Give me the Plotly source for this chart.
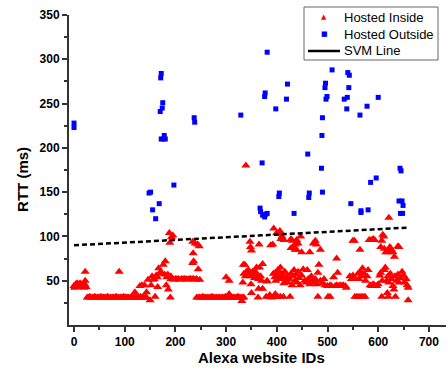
import plotly.graph_objects as go

# ---------------- data ----------------
# Hosted Inside (red triangles), in segments along the website-ID axis
in_x_a = [0, 1, 3, 4, 6, 7, 9, 10, 12, 13, 15, 16, 18, 19, 21, 22, 22, 24]
in_y_a = [44, 42, 46, 43, 47, 45, 46, 44, 47, 45, 43, 46, 44, 42, 46, 50, 60, 43]

in_x_b = [26, 28, 31, 33, 36, 38, 41, 43, 46, 48, 51, 53, 56, 58, 61, 63, 66, 68, 71, 73,
          76, 78, 81, 83, 86, 88, 91, 93, 96, 98, 101, 103, 106, 108, 111, 113, 116, 118,
          121, 123, 126, 128, 131, 133, 136, 138, 141, 143, 89, 120, 130, 134, 139, 143]
in_y_b = [31, 31, 32, 31, 31, 31, 32, 31, 31, 31, 31, 32, 31, 31, 31, 31, 32, 31, 31, 31,
          31, 31, 31, 32, 31, 31, 31, 31, 31, 32, 31, 31, 31, 31, 31, 31, 32, 31,
          31, 31, 31, 31, 32, 31, 31, 31, 31, 31, 60, 37, 44, 45, 45, 37]

in_x_c = [146, 150, 152, 154, 156, 158, 160, 162, 164, 165, 167, 169, 171, 176, 179, 180,
          182, 183, 185, 186, 188, 189, 190, 191, 192, 195]
in_y_c = [51, 28, 45, 55, 51, 52, 32, 56, 54, 43, 64, 58, 60, 68, 57, 72,
          45, 54, 57, 40, 104, 93, 31, 55, 99, 101]

in_x_d = [191, 194, 197, 200, 203, 206, 209, 212, 215, 218, 221, 224, 227, 230, 233, 236, 239]
in_y_d = [52, 52, 51, 52, 52, 52, 51, 52, 52, 52, 52, 51, 52, 52, 52, 52, 51]

in_x_e = [234, 239, 244, 247, 235, 234, 236, 245, 248, 242]
in_y_e = [94, 92, 91, 89, 81, 70, 72, 63, 51, 52]

in_x_f = [242, 245, 248, 251, 254, 257, 260, 263, 266, 269, 272, 275, 278, 281, 284, 287,
          290, 293, 296, 299, 302, 305, 308, 311, 314, 317, 320, 323, 326, 329, 332, 335,
          306, 331, 300, 306]
in_y_f = [31, 31, 31, 31, 32, 31, 31, 31, 31, 31, 32, 31, 31, 31, 31, 31,
          31, 31, 31, 32, 31, 31, 31, 31, 31, 31, 31, 32, 31, 31, 31, 31,
          35, 27, 54, 50]

in_x_g = [334, 337, 339, 335, 338, 340, 342, 344, 346, 348, 350, 352, 354, 356, 358, 360,
          362, 364, 366, 368, 370, 372, 349, 333, 347, 348, 350, 365, 350, 363, 364, 372]
in_y_g = [68, 68, 180, 58, 55, 60, 57, 62, 59, 55, 57, 60, 56, 53, 60, 65,
          56, 52, 65, 55, 50, 41, 46, 48, 94, 88, 84, 91, 36, 31, 41, 69]

in_x_h = [394, 400, 404, 406, 408, 410, 414, 388, 392, 428, 430, 432, 436, 439, 439, 442,
          447, 449, 428, 436,
          380, 381, 393, 396, 397, 398, 400, 402, 404, 406, 407, 408, 410, 412, 414, 416,
          418, 420, 422, 425, 428, 430, 432, 434, 436, 438, 440, 442, 444, 446, 449, 452,
          455, 458, 460, 462, 465, 468, 470, 473, 476, 479, 481, 483, 486, 490, 493, 495,
          379, 384, 386, 390, 394, 397, 402, 407, 413, 426]
in_y_h = [109, 104, 103, 106, 97, 100, 96, 90, 91, 97, 95, 88, 91, 85, 96, 92,
          100, 82, 87, 85,
          49, 50, 58, 54, 59, 50, 56, 62, 57, 52, 65, 55, 58, 53, 47, 60,
          50, 55, 48, 52, 58, 45, 55, 62, 50, 57, 48, 60, 53, 45, 56, 63,
          50, 48, 62, 52, 46, 55, 50, 48, 52, 46, 59, 68, 50, 47, 52, 45,
          32, 32, 34, 31, 32, 35, 32, 32, 32, 32]

in_x_i = [465, 472, 476, 478, 486, 518, 550, 553, 564, 582, 586, 590, 593, 605, 607, 609,
          611, 612, 615, 620, 621, 623, 626, 629, 632, 639, 641,
          500, 505, 508, 512, 515, 518, 520, 522, 525, 528, 531, 535, 537, 544, 547, 550,
          552, 555, 560, 562, 565, 567, 569, 572, 575, 578, 580, 584, 587, 590, 593, 597,
          600, 603, 605, 608, 612, 614, 617, 619, 621, 624, 626, 629, 631, 633, 636, 639,
          641, 644, 647, 650, 652, 655, 657, 659,
          481, 501, 505, 554, 558, 562, 566, 570, 574, 607, 618, 620, 634, 659]
in_y_i = [82, 92, 95, 91, 85, 75, 95, 95, 85, 96, 96, 97, 96, 88, 95, 102,
          100, 86, 82, 82, 121, 88, 85, 82, 77, 89, 88,
          44, 45, 44, 54, 44, 45, 59, 44, 45, 44, 45, 44, 42, 55, 52, 56,
          53, 52, 58, 52, 60, 55, 64, 58, 50, 55, 62, 45, 44, 46, 45, 44,
          46, 56, 59, 50, 62, 65, 50, 55, 48, 58, 52, 44, 40, 55, 50, 57,
          48, 53, 60, 56, 48, 52, 45, 42,
          32, 32, 32, 32, 32, 32, 32, 32, 32, 32, 36, 32, 32, 28]

inside_x = in_x_a + in_x_b + in_x_c + in_x_d + in_x_e + in_x_f + in_x_g + in_x_h + in_x_i
inside_y = in_y_a + in_y_b + in_y_c + in_y_d + in_y_e + in_y_f + in_y_g + in_y_h + in_y_i

# Hosted Outside (blue squares)
outside_x = [0, 0, 148, 151, 155, 161, 168, 171, 172, 170, 174, 175, 172, 176, 178, 180,
             197, 237, 238, 329, 367, 368, 372, 376, 378, 381, 371, 376, 377, 381, 398,
             404, 405, 419, 421, 434, 461, 463, 464, 488, 489, 490, 490, 495, 496, 497,
             499, 509, 533, 539, 538, 540, 543, 542, 546, 564, 566, 566, 578, 580, 585,
             596, 600, 641, 643, 645, 647, 649, 644, 648]
outside_y = [228, 223, 149, 150, 130, 120, 137, 279, 284, 241, 245, 251, 210, 210, 214, 210,
             158, 234, 229, 237, 132, 128, 124, 122, 125, 126, 183, 258, 262, 308, 244,
             145, 149, 255, 272, 126, 193, 144, 149, 177, 214, 234, 150, 268, 273, 255,
             258, 288, 255, 257, 244, 285, 282, 268, 137, 237, 127, 129, 247, 130, 161,
             166, 257, 140, 177, 174, 140, 135, 126, 126]

# SVM separating line
svm_x = [0, 660]
svm_y = [90, 110]

legend_labels = ["Hosted Inside", "Hosted Outside", "SVM Line"]

x_ticks = [0, 100, 200, 300, 400, 500, 600, 700]
x_minor = [50, 150, 250, 350, 450, 550, 650]
y_ticks = [50, 100, 150, 200, 250, 300, 350]
y_minor = [25, 75, 125, 175, 225, 275, 325]

# ---------------- figure ----------------
FONT = "Liberation Sans, Arial, sans-serif"
AX = "#333333"
RED = "#ff0000"
BLUE = "#0000ff"

fig = go.Figure()
fig.add_trace(go.Scatter(
    x=inside_x, y=inside_y, mode="markers", name=legend_labels[0],
    marker=dict(symbol="triangle-up", size=8, color=RED, line=dict(width=0))))
fig.add_trace(go.Scatter(
    x=outside_x, y=outside_y, mode="markers", name=legend_labels[1],
    marker=dict(symbol="square", size=5, color=BLUE, line=dict(width=0))))
fig.add_trace(go.Scatter(
    x=svm_x, y=svm_y, mode="lines", name=legend_labels[2],
    line=dict(color="black", width=2.5, dash="5px,3px")))

axis_common = dict(
    showline=True, linecolor=AX, linewidth=2,
    ticks="outside", ticklen=5, tickwidth=1.5, tickcolor=AX,
    showgrid=False, zeroline=False,
    tickfont=dict(family=FONT, size=12, color="black", weight="bold"),
)
fig.update_xaxes(range=[-9.9, 733.7], tickvals=x_ticks,
                 minor=dict(tickvals=x_minor, ticks="outside", ticklen=3,
                            tickwidth=1.5, tickcolor=AX),
                 **axis_common)
fig.update_yaxes(range=[0, 350], tickvals=y_ticks,
                 minor=dict(tickvals=y_minor, ticks="outside", ticklen=3,
                            tickwidth=1.5, tickcolor=AX),
                 **axis_common)

# compact legend box (matches the reference's tight row spacing)
def px_x(p):
    return (p - 69) / 377.0

def px_y(p):
    return (325 - p) / 310.0

rows = [17, 34, 51]
shapes = [
    dict(type="rect", xref="paper", yref="paper", layer="above",
         x0=px_x(304), x1=px_x(438), y0=px_y(60), y1=px_y(7),
         line=dict(color="#666666", width=1), fillcolor="white"),
    dict(type="line", xref="paper", yref="paper", layer="above",
         x0=px_x(308), x1=px_x(340), y0=px_y(rows[2]), y1=px_y(rows[2]),
         line=dict(color="black", width=2.5)),
]
annotations = [
    dict(text="Alexa website IDs", xref="paper", yref="paper",
         x=0.511, y=-0.106, xanchor="center", yanchor="middle", showarrow=False,
         font=dict(family=FONT, size=15, color="black", weight="bold")),
    dict(text="RTT (ms)", xref="paper", yref="paper", textangle=-90,
         x=-0.122, y=0.468, xanchor="center", yanchor="middle", showarrow=False,
         font=dict(family=FONT, size=15, color="black", weight="bold")),
    dict(text="▲", xref="paper", yref="paper", x=px_x(324), y=px_y(rows[0]),
         xanchor="center", yanchor="middle", showarrow=False,
         font=dict(family="DejaVu Sans", size=7, color=RED)),
    dict(text="■", xref="paper", yref="paper", x=px_x(324), y=px_y(rows[1]),
         xanchor="center", yanchor="middle", showarrow=False,
         font=dict(family="DejaVu Sans", size=7, color=BLUE)),
]
for lab, r in zip(legend_labels, rows):
    annotations.append(dict(
        text=lab, xref="paper", yref="paper", x=px_x(342), y=px_y(r),
        xanchor="left", yanchor="middle", showarrow=False,
        font=dict(family=FONT, size=13, color="black")))

fig.update_layout(
    width=448, height=376,
    margin=dict(l=69, r=2, t=15, b=51, pad=0),
    paper_bgcolor="white", plot_bgcolor="white",
    font=dict(family=FONT, color="black"),
    showlegend=False,
    shapes=shapes,
    annotations=annotations,
)

fig.write_html("out.html")
